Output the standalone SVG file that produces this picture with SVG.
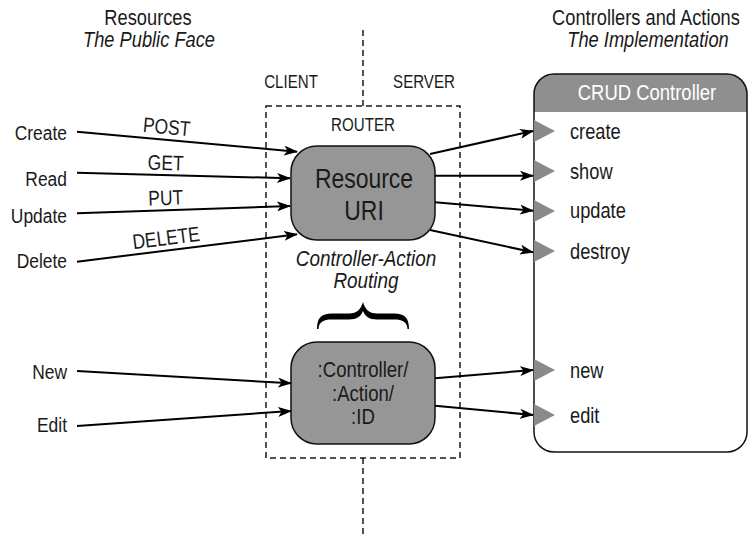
<svg xmlns="http://www.w3.org/2000/svg" width="749" height="534" viewBox="0 0 749 534">
<style>
text{font-family:"Liberation Sans",Arial,sans-serif;fill:#1a1a1a}
.h{font-size:21.5px;text-anchor:middle}
.i{font-style:italic}
.lbl{font-size:21px;text-anchor:end}
.m{font-size:21px;text-anchor:middle}
.s{font-size:18px;text-anchor:middle}
.act{font-size:22px}
.dash{fill:none;stroke:#1a1a1a;stroke-width:1.5;stroke-dasharray:6 4}
.node{fill:#969696;stroke:#111;stroke-width:1.5}
.tri{fill:#8a8a8a}
.con{fill:none;stroke:#000;stroke-width:2;marker-end:url(#ah)}
</style>
<defs>
<marker id="ah" viewBox="0 0 14 10" refX="13" refY="5" markerWidth="14" markerHeight="10" markerUnits="userSpaceOnUse" orient="auto">
<path d="M0,0 L14,5 L0,10 L3.5,5 Z" fill="#000"/>
</marker>
</defs>
<rect width="749" height="534" fill="#fff"/>

<g id="headers">
<text class="h" transform="matrix(0.85 0 0 1 148 25)">Resources</text>
<text class="h i" transform="matrix(0.85 0 0 1 149 47)">The Public Face</text>
<text class="h" transform="matrix(0.85 0 0 1 646 25)">Controllers and Actions</text>
<text class="h i" transform="matrix(0.85 0 0 1 648 47)">The Implementation</text>
</g>

<g id="router">
<path class="dash" d="M363,30 V106 M363,458 V534"/>
<rect class="dash" x="266" y="106" width="194" height="352"/>
<text class="s" transform="matrix(0.84 0 0 1 291 88)">CLIENT</text>
<text class="s" transform="matrix(0.84 0 0 1 424 88)">SERVER</text>
<text class="s" transform="matrix(0.84 0 0 1 363 131)">ROUTER</text>
</g>

<g id="resource-uri">
<rect class="node" x="291" y="146" width="144" height="94" rx="26"/>
<text transform="matrix(0.82 0 0 1 364 188)" style="font-size:28px;text-anchor:middle">Resource</text>
<text transform="matrix(0.82 0 0 1 364 220)" style="font-size:28px;text-anchor:middle">URI</text>
</g>

<g id="routing-label">
<text class="h i" transform="matrix(0.86 0 0 1 366 266)" style="font-size:22px">Controller-Action</text>
<text class="h i" transform="matrix(0.86 0 0 1 366 288)" style="font-size:22px">Routing</text>
<path d="M317,329 C317,318 321,313.5 332,313.5 L349,313.5 C357,313.5 361,309 363,302 C365,309 369,313.5 377,313.5 L394,313.5 C405,313.5 409,318 409,329 L407.5,329 C407,322 403,319.5 394,319.5 L377,319.5 C369,319.5 365,316 363,311 C361,316 357,319.5 349,319.5 L332,319.5 C323,319.5 319,322 318.5,329 Z" fill="#000"/>
</g>

<g id="controller-action-id">
<rect class="node" x="291" y="342" width="144" height="102" rx="26"/>
<text class="h" transform="matrix(0.845 0 0 1 363 377)" style="font-size:22px">:Controller/</text>
<text class="h" transform="matrix(0.845 0 0 1 363 401)" style="font-size:22px">:Action/</text>
<text class="h" transform="matrix(0.845 0 0 1 363 424)" style="font-size:22px">:ID</text>
</g>

<g id="crud-controller">
<path d="M534,112 V94 A20,20 0 0 1 554,74 H727 A20,20 0 0 1 747,94 V112 Z" fill="#8f8f8f"/>
<rect x="534" y="74" width="213" height="378" rx="20" fill="none" stroke="#111" stroke-width="1.5"/>
<text transform="matrix(0.84 0 0 1 647 100)" style="font-size:22px;text-anchor:middle;fill:#fff">CRUD Controller</text>
<path class="tri" d="M534,120 L555,131 L534,142 Z"/>
<path class="tri" d="M534,160 L555,171 L534,182 Z"/>
<path class="tri" d="M534,200 L555,211 L534,222 Z"/>
<path class="tri" d="M534,240 L555,251 L534,262 Z"/>
<path class="tri" d="M534,359 L555,370 L534,381 Z"/>
<path class="tri" d="M534,404 L555,415 L534,426 Z"/>
<text class="act" transform="matrix(0.83 0 0 1 570 139)">create</text>
<text class="act" transform="matrix(0.83 0 0 1 570 179)">show</text>
<text class="act" transform="matrix(0.83 0 0 1 570 218)">update</text>
<text class="act" transform="matrix(0.83 0 0 1 570 259)">destroy</text>
<text class="act" transform="matrix(0.83 0 0 1 570 378)">new</text>
<text class="act" transform="matrix(0.83 0 0 1 570 423)">edit</text>
</g>

<g id="resources">
<text class="lbl" transform="matrix(0.83 0 0 1 67 140)">Create</text>
<text class="lbl" transform="matrix(0.83 0 0 1 67 186)">Read</text>
<text class="lbl" transform="matrix(0.83 0 0 1 67 223)">Update</text>
<text class="lbl" transform="matrix(0.83 0 0 1 67 268)">Delete</text>
<text class="lbl" transform="matrix(0.83 0 0 1 67 379)">New</text>
<text class="lbl" transform="matrix(0.83 0 0 1 67 432)">Edit</text>
</g>

<g id="connectors">
<path class="con" d="M77,131.7 L297,151.7"/>
<path class="con" d="M77,172.7 L290,178.3"/>
<path class="con" d="M77,213.3 L290,206"/>
<path class="con" d="M77,261.7 L297,234.3"/>
<path class="con" d="M77,371 L291,383.3"/>
<path class="con" d="M77,426 L291,411"/>
<path class="con" d="M430,154 L533,131"/>
<path class="con" d="M435,175.7 L533,175.7"/>
<path class="con" d="M435,202.3 L533,210.7"/>
<path class="con" d="M430,230 L533,252.3"/>
<path class="con" d="M435,378.3 L533,370"/>
<path class="con" d="M435,405.7 L533,415"/>
<text class="m" transform="translate(166,134) rotate(5.2) scale(0.83,1)">POST</text>
<text class="m" transform="translate(165.5,170) rotate(1.5) scale(0.83,1)">GET</text>
<text class="m" transform="translate(166,205) rotate(-2) scale(0.83,1)">PUT</text>
<text class="m" transform="translate(167,245) rotate(-7.1) scale(0.83,1)">DELETE</text>
</g>
</svg>
